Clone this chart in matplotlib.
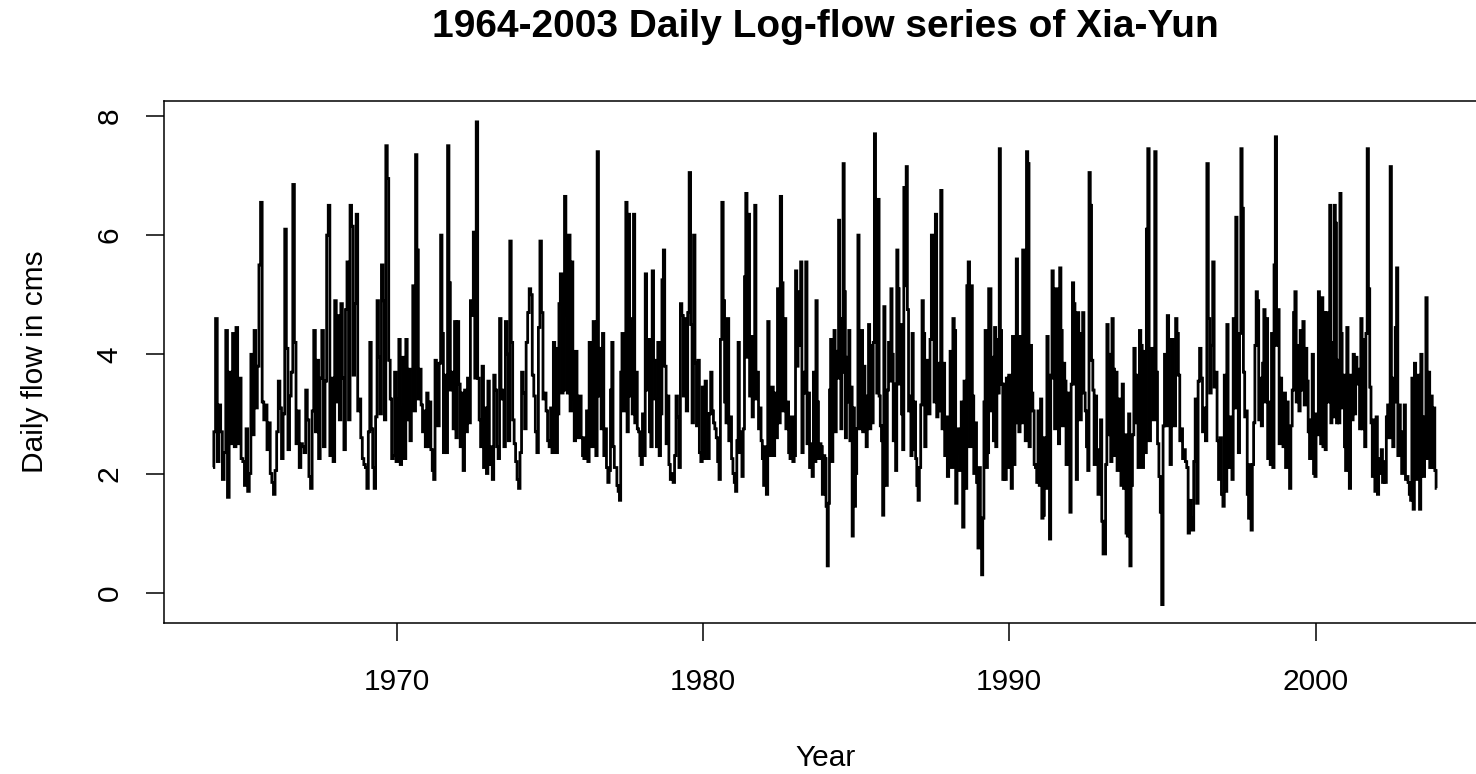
import numpy as np
import matplotlib
matplotlib.use("Agg")
import matplotlib.pyplot as plt

# ---- data: log-flow values, evenly spaced within each year ----
flow_1964 = [2.1, 2.7, 4.6, 2.2, 3.15, 2.7, 1.9, 2.35, 4.4, 1.6, 3.7, 2.5, 4.35, 2.45, 4.45, 2.5, 3.6, 2.25]
flow_1965 = [2.2, 1.8, 2.75, 1.7, 2.0, 4.0, 2.65, 4.4, 3.1, 3.8, 5.5, 6.55, 3.2, 2.9, 3.15, 2.4, 2.85, 2.0, 1.85]
flow_1966 = [1.65, 2.05, 2.7, 3.55, 3.1, 2.25, 3.0, 6.1, 4.1, 2.4, 3.3, 3.7, 6.85, 4.2, 2.5, 3.05, 2.1, 2.5, 2.45]
flow_1967 = [2.35, 3.4, 2.9, 1.95, 1.75, 3.05, 4.4, 2.7, 3.9, 2.25, 3.6, 4.4, 2.45, 3.55, 6.0, 6.5, 2.3, 3.6, 2.2]
flow_1968 = [4.9, 3.2, 4.65, 2.9, 4.85, 3.6, 2.4, 4.75, 5.55, 2.9, 6.5, 6.15, 3.65, 4.85, 6.35, 3.05, 3.25, 2.6, 2.25, 2.15]
flow_1969 = [2.1, 1.75, 2.7, 4.2, 2.75, 2.1, 1.75, 2.95, 4.9, 3.95, 3.0, 5.5, 4.9, 2.9, 7.5, 6.95, 3.9, 3.25, 2.25, 2.3, 3.7]
flow_1970 = [2.2, 3.25, 4.25, 2.15, 3.1, 3.95, 2.25, 4.25, 2.9, 3.75, 2.55, 3.15, 5.15, 3.05, 7.35, 5.75, 3.25, 3.75, 3.15, 2.7, 3.05, 2.45]
flow_1971 = [3.35, 2.45, 3.2, 2.4, 2.05, 1.9, 3.9, 3.5, 2.8, 3.85, 6.0, 4.35, 2.35, 3.65, 2.35, 7.5, 5.2, 3.4, 3.7, 2.75, 4.55, 2.6]
flow_1972 = [4.55, 3.5, 2.45, 3.35, 2.05, 3.4, 2.7, 3.6, 2.85, 4.9, 4.65, 6.05, 3.6, 7.9, 3.6, 2.9, 2.45, 3.8, 2.1, 3.1, 2.0]
flow_1973 = [3.55, 2.15, 2.45, 1.9, 3.65, 3.4, 2.45, 2.25, 4.6, 3.25, 3.4, 2.45, 4.55, 4.0, 2.55, 5.9, 4.2, 2.9, 2.5, 2.2, 1.9]
flow_1974 = [1.75, 2.35, 3.7, 3.35, 2.75, 4.2, 4.7, 5.1, 5.0, 3.65, 3.3, 2.7, 2.35, 4.45, 5.9, 4.7, 3.25, 3.35, 3.05, 2.55]
flow_1975 = [2.45, 3.1, 2.35, 4.2, 4.1, 2.35, 3.0, 4.85, 5.35, 3.35, 3.4, 6.65, 4.65, 3.35, 6.0, 3.05, 5.55, 3.25, 2.55, 4.05, 2.6, 3.3]
flow_1976 = [3.3, 2.6, 2.3, 2.25, 2.6, 3.05, 2.2, 4.2, 3.8, 2.45, 4.55, 4.0, 2.3, 7.4, 3.3, 4.1, 2.75, 4.35, 2.3, 2.75, 2.1, 1.85, 2.05]
flow_1977 = [3.4, 4.2, 2.45, 2.1, 2.1, 1.8, 1.7, 1.55, 3.7, 4.35, 3.05, 4.0, 6.55, 2.7, 6.35, 3.3, 4.6, 3.0, 6.35, 2.85, 3.7, 2.75, 2.7, 2.3]
flow_1978 = [2.15, 3.0, 2.3, 5.35, 3.4, 4.25, 2.7, 2.45, 5.4, 3.9, 3.25, 2.45, 4.2, 2.3, 3.0, 5.25, 5.75, 3.8, 2.5, 3.3, 2.15, 1.9]
flow_1979 = [2.0, 1.85, 2.3, 3.3, 2.95, 2.1, 4.85, 4.65, 3.3, 4.6, 3.05, 4.7, 7.05, 4.5, 2.85, 6.0, 3.85, 2.8, 3.9, 2.35, 2.2]
flow_1980 = [3.45, 2.25, 3.55, 3.0, 2.25, 3.0, 3.7, 3.05, 2.85, 2.75, 2.6, 2.2, 1.9, 4.25, 6.55, 4.9, 3.2, 2.85, 4.6, 2.55, 2.95, 2.25]
flow_1981 = [2.0, 1.85, 1.7, 2.55, 4.2, 2.35, 2.7, 1.95, 2.75, 5.3, 6.7, 3.95, 6.35, 3.3, 4.3, 2.95, 4.25, 6.5, 3.25, 3.7, 2.75, 3.1, 2.55, 2.25]
flow_1982 = [1.8, 2.45, 1.65, 4.55, 2.3, 2.95, 3.45, 2.3, 3.35, 2.6, 5.1, 2.85, 6.65, 5.2, 3.05, 4.6, 2.75, 3.2, 2.35, 2.25, 2.95, 2.2]
flow_1983 = [2.3, 5.4, 3.8, 5.05, 4.15, 5.55, 2.35, 3.7, 3.35, 5.55, 2.5, 3.35, 2.1, 2.5, 1.95, 3.7, 2.2, 4.9, 3.2, 2.25, 2.5, 2.45, 1.65, 2.3]
flow_1984 = [2.25, 1.45, 0.45, 1.5, 3.4, 4.25, 2.2, 3.4, 4.4, 2.7, 4.05, 3.6, 6.25, 4.6, 2.75, 3.7, 7.2, 5.05, 2.6, 3.95, 3.2, 4.4, 2.55, 3.45, 0.95, 3.1, 1.45]
flow_1985 = [2.0, 2.75, 6.0, 3.95, 2.75, 4.4, 2.7, 3.8, 2.9, 2.45, 3.3, 4.5, 2.75, 4.15, 2.85, 4.2, 7.7, 5.55, 3.35, 6.6, 3.3, 2.8, 2.55, 1.3, 4.8, 2.3]
flow_1986 = [1.8, 3.4, 4.2, 3.55, 5.1, 4.0, 2.55, 3.5, 2.05, 5.75, 5.1, 3.5, 4.5, 3.0, 2.4, 6.8, 5.15, 7.15, 4.75, 3.05, 3.3, 2.3, 4.35, 2.4, 3.2, 2.25]
flow_1987 = [1.8, 1.55, 2.1, 3.15, 4.9, 4.35, 2.45, 3.9, 3.25, 3.0, 4.25, 6.0, 4.25, 3.2, 6.35, 2.95, 3.85, 3.05, 6.75, 2.75, 3.85, 2.3, 2.95]
flow_1988 = [1.95, 2.9, 4.05, 2.1, 4.6, 4.4, 1.5, 2.35, 2.75, 2.05, 3.2, 1.1, 3.55, 1.75, 5.15, 5.55, 2.45, 5.15, 3.3, 2.0, 2.85, 1.85]
flow_1989 = [0.75, 2.1, 1.25, 0.3, 1.25, 3.2, 4.4, 2.1, 2.35, 5.1, 5.1, 3.05, 3.95, 2.55, 4.45, 2.45, 4.25, 3.35, 7.45, 4.4, 3.5, 1.9, 3.5, 1.9, 3.6, 2.1]
flow_1990 = [3.65, 3.0, 1.75, 4.3, 2.15, 2.85, 5.6, 4.3, 2.7, 4.3, 2.85, 5.75, 3.8, 2.55, 7.4, 7.2, 2.45, 4.15, 3.35, 3.05, 2.15, 2.1, 1.85, 3.05]
flow_1991 = [1.8, 3.25, 1.25, 1.3, 2.6, 1.75, 4.3, 2.1, 0.9, 3.65, 5.4, 3.6, 2.75, 5.1, 4.35, 2.5, 5.45, 4.4, 2.8, 3.85, 3.55, 2.15, 3.35, 2.15]
flow_1992 = [1.35, 3.5, 5.2, 4.85, 3.5, 1.9, 4.7, 4.35, 2.9, 4.2, 4.7, 3.35, 3.05, 2.45, 2.05, 7.05, 6.5, 3.9, 3.4, 2.15, 3.3, 2.4, 1.65, 2.35]
flow_1993 = [2.9, 1.2, 0.65, 0.65, 2.15, 4.5, 2.65, 4.0, 2.2, 4.6, 3.75, 2.3, 3.7, 2.05, 3.25, 2.45, 1.8, 3.5, 1.75, 2.65, 1.0, 0.95, 3.0, 0.45]
flow_1994 = [1.8, 2.65, 4.1, 2.85, 3.65, 2.1, 4.4, 4.15, 2.1, 4.05, 2.35, 6.1, 7.45, 2.55, 3.65, 4.1, 2.9, 7.4, 3.7, 2.5, 1.95, 1.35]
flow_1995 = [-0.2, 2.8, 4.0, 2.8, 4.65, 3.5, 2.15, 4.25, 2.8, 2.8, 4.6, 4.35, 3.65, 2.55, 2.75, 2.25, 2.4, 2.2, 2.1, 1.0, 1.55, 1.25]
flow_1996 = [1.05, 2.2, 3.25, 1.5, 3.55, 4.1, 3.6, 2.7, 3.1, 2.55, 7.2, 4.6, 3.35, 4.15, 5.55, 3.45, 3.7, 2.55, 1.9, 2.6, 1.65]
flow_1997 = [1.45, 3.65, 1.7, 4.5, 2.1, 2.55, 2.95, 1.9, 4.6, 3.1, 6.3, 4.15, 2.35, 4.35, 7.45, 6.45, 3.7, 2.95, 3.05, 1.65, 1.25, 2.15, 1.05, 2.15]
flow_1998 = [2.85, 4.15, 5.05, 4.9, 2.9, 3.6, 2.8, 3.85, 4.75, 3.2, 4.6, 2.25, 3.2, 2.15, 4.35, 2.1, 5.5, 7.65, 4.15, 4.75, 2.5, 3.6, 2.9, 2.45]
flow_1999 = [3.35, 2.1, 3.2, 2.4, 1.75, 2.8, 3.4, 4.7, 5.05, 3.2, 4.15, 3.05, 4.4, 3.4, 4.55, 3.15, 4.1, 3.55, 2.7, 2.25, 2.9, 4.0, 2.0]
flow_2000 = [1.95, 3.0, 2.65, 5.05, 4.75, 2.5, 4.95, 2.45, 4.7, 2.4, 4.7, 3.2, 4.35, 6.5, 2.85, 4.2, 2.95, 6.5, 6.2, 2.85, 3.9, 2.85, 6.7, 4.35, 3.1, 3.65, 2.45]
flow_2001 = [2.05, 4.45, 3.2, 1.75, 3.65, 2.9, 4.0, 3.0, 3.95, 3.5, 3.75, 2.75, 4.6, 2.75, 4.25, 2.45, 4.35, 7.45, 5.1, 3.45, 2.85, 1.95, 2.9, 1.7]
flow_2002 = [2.95, 1.65, 2.25, 2.0, 2.4, 1.85, 2.2, 1.85, 2.95, 3.15, 2.6, 7.15, 3.6, 2.45, 3.2, 4.45, 5.45, 2.3, 3.15, 2.7, 2.0, 2.0, 3.15, 1.9]
flow_2003 = [1.95, 1.85, 1.65, 1.55, 3.6, 1.4, 3.85, 2.1, 1.9, 3.65, 1.4, 4.0, 2.95, 1.95, 2.75, 4.95, 2.25, 3.7, 2.1, 3.3, 2.1, 3.1, 2.05, 1.75]

years = list(range(1964, 2004))
yearly_flows = [flow_1964, flow_1965, flow_1966, flow_1967, flow_1968, flow_1969,
                flow_1970, flow_1971, flow_1972, flow_1973, flow_1974, flow_1975,
                flow_1976, flow_1977, flow_1978, flow_1979, flow_1980, flow_1981,
                flow_1982, flow_1983, flow_1984, flow_1985, flow_1986, flow_1987,
                flow_1988, flow_1989, flow_1990, flow_1991, flow_1992, flow_1993,
                flow_1994, flow_1995, flow_1996, flow_1997, flow_1998, flow_1999,
                flow_2000, flow_2001, flow_2002, flow_2003]

x_ticks = [1970, 1980, 1990, 2000]
y_ticks = [0, 2, 4, 6, 8]

t = np.concatenate([yr + np.arange(len(v)) / len(v) for yr, v in zip(years, yearly_flows)])
flow = np.concatenate([np.asarray(v, dtype=float) for v in yearly_flows])

# ---- figure ----
plt.rcParams['font.family'] = ['Liberation Sans', 'DejaVu Sans']
W, H = 1476, 774
fig = plt.figure(figsize=(W / 100, H / 100), dpi=100)
ax_l, ax_r, ax_t, ax_b = 164, 1487, 101, 622.5
ax = fig.add_axes([ax_l / W, 1 - ax_b / H, (ax_r - ax_l) / W, (ax_b - ax_t) / H])

ax.plot(t, flow, color='black', lw=2.0, drawstyle='steps-mid',
        solid_joinstyle='miter', solid_capstyle='butt')

ax.set_xlim(1962.4, 2005.6)
ax.set_ylim(-0.5, 8.25)
ax.set_xticks(x_ticks)
ax.set_yticks(y_ticks)
ax.set_xticklabels([str(v) for v in x_ticks])
ax.set_yticklabels([str(v) for v in y_ticks])

for s in ax.spines.values():
    s.set_linewidth(1.1)
    s.set_color('black')

ax.tick_params(axis='both', direction='out', length=13, width=1.1, colors='black', labelsize=21.5)
ax.tick_params(axis='x', pad=20)
ax.tick_params(axis='y', pad=16, labelrotation=90)
for lab in ax.get_yticklabels():
    lab.set_va('center')

ax_h = ax_b - ax_t
ax_w = ax_r - ax_l
ax.set_xlabel('Year', fontsize=21.5, va='center')
ax.xaxis.set_label_coords(0.5, (ax_b - 758) / ax_h)
ax.set_ylabel('Daily flow in cms', fontsize=21.5, va='center')
ax.yaxis.set_label_coords((35 - ax_l) / ax_w, 0.5)

ax.set_title('1964-2003 Daily Log-flow series of Xia-Yun', fontsize=28, fontweight='bold',
             va='center', y=(ax_b - 27) / ax_h, pad=0)

fig.savefig('out.png', dpi=100, facecolor='white')
